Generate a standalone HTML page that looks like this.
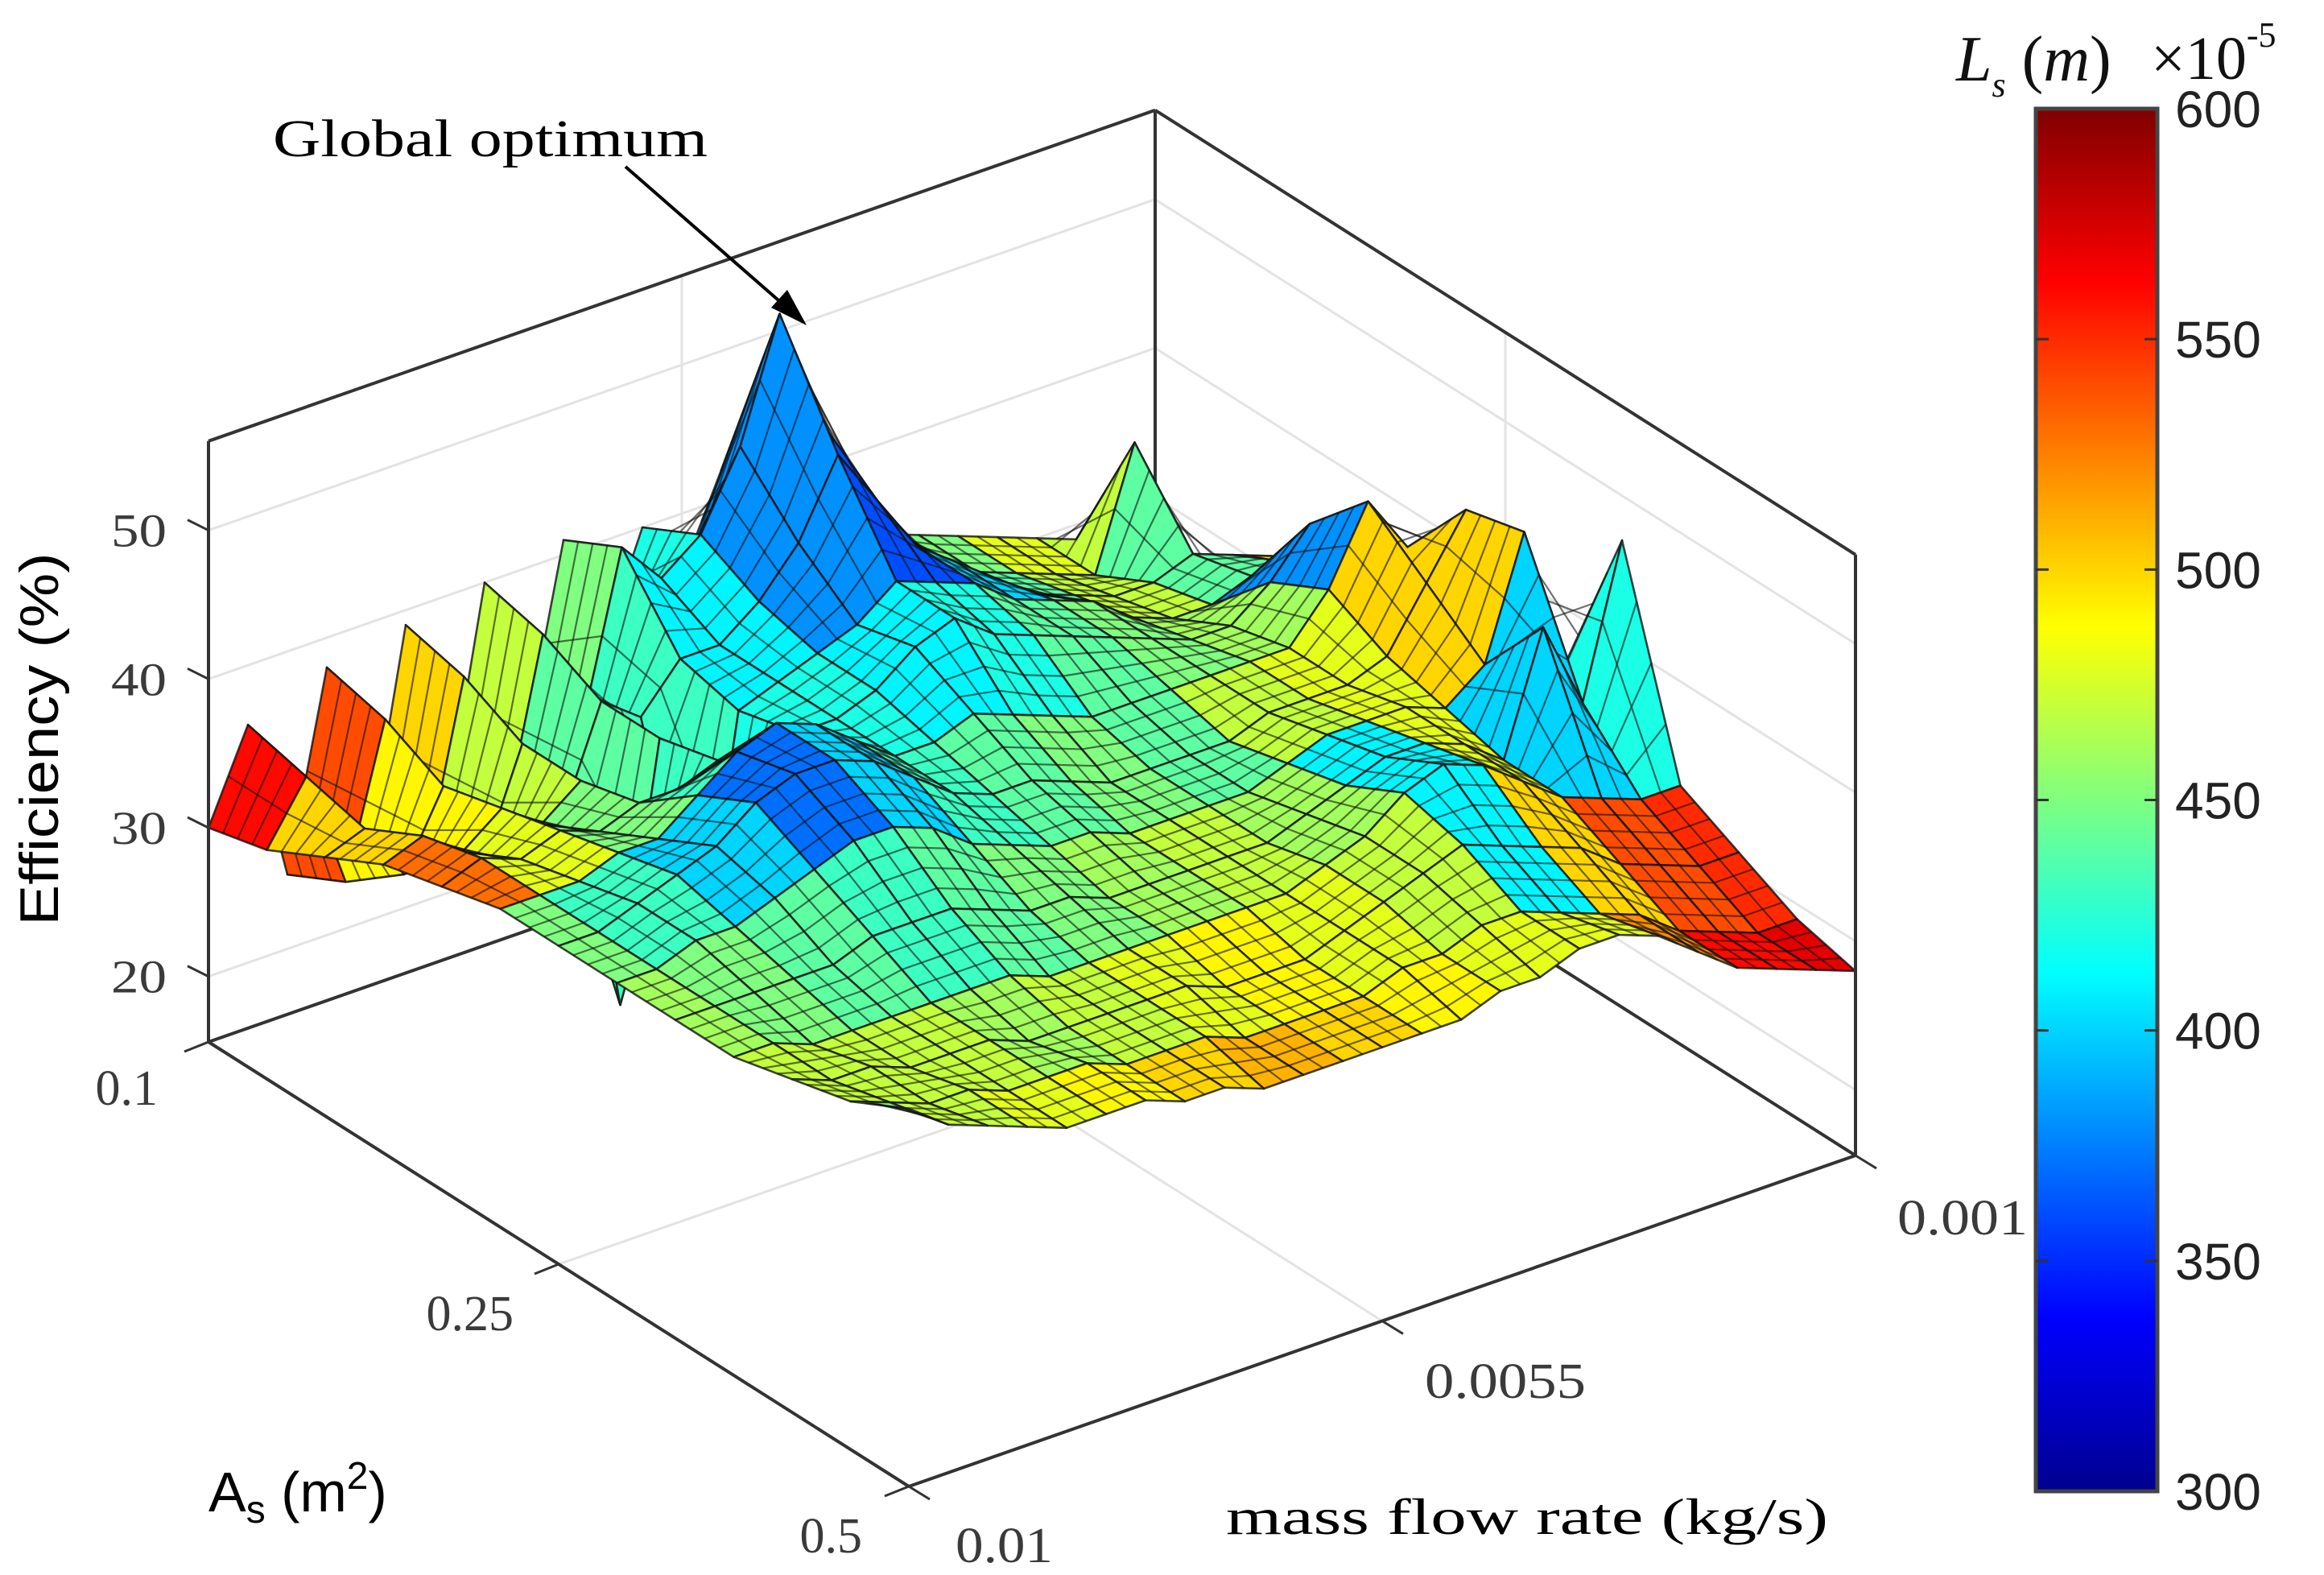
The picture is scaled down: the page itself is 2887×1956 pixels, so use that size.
<!DOCTYPE html>
<html>
<head>
<meta charset="utf-8">
<style>
  html, body { margin: 0; padding: 0; background: #ffffff; }
  svg { display: block; }
  .serif { font-family: "Liberation Serif", "DejaVu Serif", serif; }
  .sans { font-family: "Liberation Sans", "DejaVu Sans", sans-serif; }
</style>
</head>
<body>
<svg id="chart" width="2887" height="1956" viewBox="0 0 2887 1956" xmlns="http://www.w3.org/2000/svg">
  <defs>
    <linearGradient id="jet" x1="0" y1="1" x2="0" y2="0">
      <stop offset="0" stop-color="#00008f"/>
      <stop offset="0.125" stop-color="#0000ff"/>
      <stop offset="0.375" stop-color="#00ffff"/>
      <stop offset="0.625" stop-color="#ffff00"/>
      <stop offset="0.875" stop-color="#ff0000"/>
      <stop offset="1" stop-color="#800000"/>
    </linearGradient>
  </defs>
  <g id="back-layer"></g>
  <g id="surface"></g>
  <g id="front-layer"></g>
  <g id="colorbar"></g>
  <g id="labels"></g>
</svg>
<script>
// ---------------- data ----------------
const efficiencyRow0  = [30,36,25,38,24,39,25,40,28,41,33,40,36,42,38,37,35,34,33,32,31,30,29,28,27];
const efficiencyRow1  = [31,35,27,37,26,38,27,39,32,43,40,42,47,55,47,40,37,35,33,32,31,30,38,29,28];
const efficiencyRow2  = [33,34,30,35,29,36,30,37,35,38,38,40,43,48,44,40,38,36,34,33,32,32,33,32,31];
const efficiencyRow3  = [35,36,34,36,34,36,20,37,20,37,38,39,40,42,41,40,38,37,36,34,33,33,34,34,32];
const efficiencyRow4  = [36,37,36,37,36,37,37,38,38,38,38,39,41,42,40,39,38,37,36,35,35,37,40,38,33];
const efficiencyRow5  = [37,37,37,38,38,40,42,43,42,40,38,38,39,38,37,36,36,36,36,36,36,39,44,40,34];
const efficiencyRow6  = [37,37,38,39,40,42,43,43,42,40,38,37,37,36,35,35,35,35,36,36,36,37,41,45,36];
const efficiencyRow7  = [37,37,38,38,39,40,41,41,40,38,37,36,36,35,35,35,35,36,37,37,37,36,38,46,36];
const efficiencyRow8  = [37,37,37,37,37,38,38,38,37,36,36,35,35,35,35,35,36,37,38,38,37,35,43,37,47];
const efficiencyRow9  = [37,37,36,36,36,36,36,36,35,35,35,35,35,35,35,36,37,39,40,39,37,35,34,33,33];
const efficiencyRow10 = [38,37,37,36,36,36,35,35,35,35,35,34,34,34,35,36,37,38,37,36,35,33,32,31,31];
const efficiencyRow11 = [39,38,37,37,36,36,36,35,35,35,34,34,34,34,35,35,36,36,35,34,33,31,30,29,29];
const efficiencyRow12 = [41,39,38,37,36,36,36,35,35,34,34,34,34,34,34,35,35,36,36,35,33,31,30,29,28];
const efficiency = [efficiencyRow0,efficiencyRow1,efficiencyRow2,efficiencyRow3,efficiencyRow4,efficiencyRow5,
  efficiencyRow6,efficiencyRow7,efficiencyRow8,efficiencyRow9,efficiencyRow10,efficiencyRow11,efficiencyRow12];

const lsRow0 = [560,540,500,470,450,420,380,370,420,450,480,470,510];
const lsRow1 = [500,490,470,440,430,410,380,360,400,440,470,440,500];
const lsRow2 = [530,480,450,430,420,420,410,420,440,450,460,380,430];
const lsRow3 = [450,430,400,370,400,430,440,450,440,470,480,500,400];
const lsRow4 = [460,450,440,430,440,450,460,470,460,410,480,400,420];
const lsRow5 = [470,470,470,460,470,480,490,480,470,410,500,540,550];
const lsRow6 = [450,470,480,490,500,510,500,490,480,480,520,560,570];
const lsGrid = [lsRow0,lsRow1,lsRow2,lsRow3,lsRow4,lsRow5,lsRow6];

const zTicks = [20,30,40,50];
const zTickLabels = ['20','30','40','50'];
const asTickPos = [0,0.5,1];
const asTickLabels = ['0.1','0.25','0.5'];
const mfTickPos = [0,0.5,1];
const mfTickLabels = ['0.01','0.0055','0.001'];
const cbTicks = [300,350,400,450,500,550,600];
const cbTickLabels = ['300','350','400','450','500','550','600'];

// ---------------- axis functions ----------------
const Z_MIN = 15.6, Z_MAX = 56, Z_SCALE = 18.47;
const LS_MIN = 300, LS_MAX = 600;
function proj(u, v, z) {
  return [259 + 870*u + 1176*v, 1294 + 552*u - 411*v - (z - Z_MIN)*Z_SCALE];
}
function clamp(x){ return Math.max(0, Math.min(1, x)); }
function jet(val) {
  const t = clamp((val - LS_MIN)/(LS_MAX - LS_MIN));
  const r = clamp(1.5 - Math.abs(4*t - 3));
  const g = clamp(1.5 - Math.abs(4*t - 2));
  const b = clamp(1.5 - Math.abs(4*t - 1));
  return 'rgb(' + Math.round(r*255) + ',' + Math.round(g*255) + ',' + Math.round(b*255) + ')';
}
const NS = 'http://www.w3.org/2000/svg';
function mk(parent, tag, attrs) {
  const el = document.createElementNS(NS, tag);
  for (const k in attrs) el.setAttribute(k, attrs[k]);
  parent.appendChild(el);
  return el;
}
function pt(p){ return p[0].toFixed(1) + ',' + p[1].toFixed(1); }
function lerp(a,b,t){ return [a[0]+(b[0]-a[0])*t, a[1]+(b[1]-a[1])*t]; }

const back = document.getElementById('back-layer');
const surf = document.getElementById('surface');
const front = document.getElementById('front-layer');
const cbar = document.getElementById('colorbar');
const labels = document.getElementById('labels');

// ---------------- back: grid lines ----------------
const GRID = '#e3e3e3';
zTicks.forEach(function(z){
  const a = proj(0,0,z), b = proj(0,1,z), c = proj(1,1,z);
  const gl = mk(back, 'polyline', {points: pt(a)+' '+pt(b)+' '+pt(c), fill:'none', stroke:GRID, 'stroke-width':3});
  
  
});
[0.5].forEach(function(f){
  const g1 = mk(back, 'polyline', {points: pt(proj(0,f,Z_MIN))+' '+pt(proj(0,f,Z_MAX)), fill:'none', stroke:GRID, 'stroke-width':3});
  
  
  const g2 = mk(back, 'polyline', {points: pt(proj(f,1,Z_MIN))+' '+pt(proj(f,1,Z_MAX)), fill:'none', stroke:GRID, 'stroke-width':3});
  
  
  const g3 = mk(back, 'polyline', {points: pt(proj(f,0,Z_MIN))+' '+pt(proj(f,1,Z_MIN)), fill:'none', stroke:GRID, 'stroke-width':3});
  
  
  const g4 = mk(back, 'polyline', {points: pt(proj(0,f,Z_MIN))+' '+pt(proj(1,f,Z_MIN)), fill:'none', stroke:GRID, 'stroke-width':3});
  
  
});
const AX = '#333333';
const backEdges = mk(back, 'polyline', {points: pt(proj(0,0,Z_MIN))+' '+pt(proj(0,1,Z_MIN))+' '+pt(proj(1,1,Z_MIN)), fill:'none', stroke:AX, 'stroke-width':4});


const backVert = mk(back, 'line', {x1: proj(0,1,Z_MIN)[0], y1: proj(0,1,Z_MIN)[1], x2: proj(0,1,Z_MAX)[0], y2: proj(0,1,Z_MAX)[1], stroke:AX, 'stroke-width':4});



// ---------------- surface ----------------
const NU = efficiency.length, NV = efficiency[0].length;
const cells = [];
for (let i = 0; i < NU-1; i++) {
  for (let j = 0; j < NV-1; j++) {
    const uc = (i+0.5)/(NU-1), vc = (j+0.5)/(NV-1);
    cells.push({i:i, j:j, depth: uc - vc});
  }
}
cells.sort(function(a,b){ return a.depth - b.depth; });
const MESH = '#101010';
cells.forEach(function(c){
  const i = c.i, j = c.j;
  const u0 = i/(NU-1), u1 = (i+1)/(NU-1), v0 = j/(NV-1), v1 = (j+1)/(NV-1);
  const p1 = proj(u0, v0, efficiency[i][j]);
  const p2 = proj(u1, v0, efficiency[i+1][j]);
  const p3 = proj(u1, v1, efficiency[i+1][j+1]);
  const p4 = proj(u0, v1, efficiency[i][j+1]);
  const uc = (u0+u1)/2, vc = (v0+v1)/2;
  const ci = Math.round(uc*(lsGrid.length-1));
  const cj = Math.round(vc*(lsGrid[0].length-1));
  const poly = mk(surf, 'polygon', {points: pt(p1)+' '+pt(p2)+' '+pt(p3)+' '+pt(p4), fill: jet(lsGrid[ci][cj]), stroke:MESH, 'stroke-width':2.6, 'stroke-opacity':0.8, 'stroke-linejoin':'round'});
  
  
  [0.25,0.5,0.75].forEach(function(t){
    const a = lerp(p1,p2,t), b = lerp(p4,p3,t);
    const ml = mk(surf, 'line', {x1:a[0], y1:a[1], x2:b[0], y2:b[1], stroke:MESH, 'stroke-width':2.2, 'stroke-opacity':0.6});
    
    
  });
  [0.5].forEach(function(t){
    const a = lerp(p1,p4,t), b = lerp(p2,p3,t);
    const ml = mk(surf, 'line', {x1:a[0], y1:a[1], x2:b[0], y2:b[1], stroke:MESH, 'stroke-width':2.2, 'stroke-opacity':0.6});
    
    
  });
});

// ---------------- front box edges & ticks ----------------
function line(parent, a, b, name, w, col) {
  const l = mk(parent, 'line', {x1:a[0], y1:a[1], x2:b[0], y2:b[1], stroke: col || AX, 'stroke-width': w || 4});
  
  
  return l;
}
line(front, proj(0,0,Z_MIN), proj(0,0,Z_MAX), 'z-axis-line');
line(front, proj(0,0,Z_MAX), proj(0,1,Z_MAX), 'box-top-left-edge');
line(front, proj(0,1,Z_MAX), proj(1,1,Z_MAX), 'box-top-right-edge');
line(front, proj(1,1,Z_MIN), proj(1,1,Z_MAX), 'box-right-vertical-edge');
line(front, proj(0,0,Z_MIN), proj(1,0,Z_MIN), 'as-axis-line');
line(front, proj(1,0,Z_MIN), proj(1,1,Z_MIN), 'massflow-axis-line');

zTicks.forEach(function(z, k){
  const p = proj(0,0,z);
  line(front, p, [p[0]-26, p[1]-13], 'z-tick', 3);
  const t = mk(labels, 'text', {x: 207, y: p[1]+20, 'text-anchor':'end', 'font-size':58, fill:'#3a3a3a', class:'serif', textLength:69, lengthAdjust:'spacingAndGlyphs'});
  t.textContent = zTickLabels[k];
  
  
});
const asLabelPos = [[196,1372],[638,1652],[1071,1928]];
asTickPos.forEach(function(f, k){
  const p = proj(f,0,Z_MIN);
  line(front, p, [p[0]-30, p[1]+12], 'as-tick', 3);
  const t = mk(labels, 'text', {x: asLabelPos[k][0], y: asLabelPos[k][1], 'text-anchor':'end', 'font-size':62, fill:'#3a3a3a', class:'serif'});
  t.textContent = asTickLabels[k];
  
  
});
const mfLabelPos = [[1187,1940],[1770,1736],[2357,1533]];
const mfLabelW = [121,200,162];
mfTickPos.forEach(function(f, k){
  const p = proj(1,f,Z_MIN);
  line(front, p, [p[0]+26, p[1]+16], 'massflow-tick', 3);
  const t = mk(labels, 'text', {x: mfLabelPos[k][0], y: mfLabelPos[k][1], 'font-size':62, fill:'#3a3a3a', class:'serif', textLength: mfLabelW[k], lengthAdjust:'spacingAndGlyphs'});
  t.textContent = mfTickLabels[k];
  
  
});

// ---------------- colorbar ----------------
const CB_X = 2529, CB_W = 151, CB_TOP = 135, CB_BOT = 1852;
function cbY(val){ return CB_BOT - (val - LS_MIN)/(LS_MAX - LS_MIN)*(CB_BOT - CB_TOP); }
const cbRect = mk(cbar, 'rect', {x:CB_X, y:CB_TOP, width:CB_W, height:CB_BOT-CB_TOP, fill:'url(#jet)', stroke:'#444', 'stroke-width':5});


cbTicks.forEach(function(val, k){
  const y = cbY(val);
  if (k > 0 && k < cbTicks.length-1) {
    line(cbar, [CB_X, y], [CB_X+16, y], 'colorbar-tick', 3, '#333');
    line(cbar, [CB_X+CB_W-16, y], [CB_X+CB_W, y], 'colorbar-tick', 3, '#333');
  }
  const t = mk(labels, 'text', {x: 2702, y: y+23, 'font-size':64, fill:'#222', class:'sans'});
  t.textContent = cbTickLabels[k];
  
  
});
</script>
<script>
(function(){
  const labels = document.getElementById('labels');
  labels.insertAdjacentHTML('beforeend',
    '<text x="339" y="194" font-size="66" class="serif" fill="#000" textLength="540" lengthAdjust="spacingAndGlyphs">Global optimum</text>' +
    '<line x1="777" y1="207" x2="982" y2="386" stroke="#000" stroke-width="4"/>' +
    '<polygon points="1002,404 958,382 978,360" fill="#000"/>' +
    '<text transform="translate(72,918) rotate(-90)" text-anchor="middle" font-size="68" class="sans" fill="#000" textLength="463" lengthAdjust="spacingAndGlyphs">Efficiency (%)</text>' +
    '<text x="259" y="1877" font-size="70" class="sans" fill="#000">A<tspan font-size="48" dy="14">s</tspan><tspan dy="-14"> (m</tspan><tspan font-size="48" dy="-28">2</tspan><tspan dy="28">)</tspan></text>' +
    '<text x="1523" y="1905" font-size="64" class="serif" fill="#000" textLength="748" lengthAdjust="spacingAndGlyphs">mass flow rate (kg/s)</text>' +
    '<text x="2430" y="100" font-size="80" class="serif" fill="#111"><tspan font-style="italic">L</tspan><tspan font-size="44" dy="20" font-style="italic">s</tspan><tspan dy="-20"> (</tspan><tspan font-style="italic">m</tspan><tspan>)</tspan></text>' +
    '<text x="2672" y="98" font-size="76" class="serif" fill="#111">×10<tspan font-size="44" dy="-40">-5</tspan></text>'
  );
})();
</script>
</body>
</html>
